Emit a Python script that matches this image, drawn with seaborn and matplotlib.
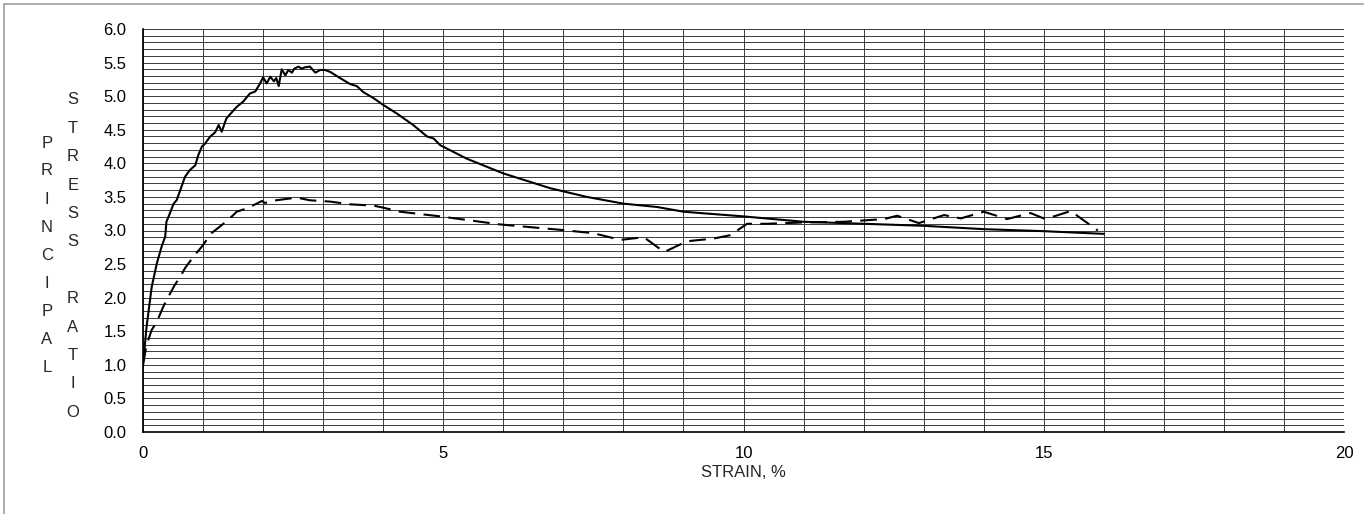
import matplotlib
matplotlib.use("Agg")
import matplotlib.pyplot as plt
import seaborn as sns
from matplotlib.ticker import MultipleLocator, FormatStrFormatter
from matplotlib.lines import Line2D

# --------------------
# Data
# --------------------
strain_solid = [0, 0.06, 0.145, 0.23, 0.31, 0.37, 0.39, 0.45, 0.51, 0.56, 0.62, 0.70,
                0.78, 0.87, 0.92, 0.98, 1.03, 1.12, 1.20, 1.26, 1.31, 1.39, 1.56, 1.67,
                1.78, 1.87, 1.95, 2.00, 2.06, 2.12, 2.18, 2.22, 2.26, 2.31, 2.37, 2.42,
                2.48, 2.52, 2.59, 2.64, 2.70, 2.78, 2.87, 2.95, 3.03, 3.12, 3.28, 3.45,
                3.56, 3.67, 3.84, 4.00, 4.23, 4.50, 4.73, 4.84, 4.95, 5.39, 6.0, 6.78,
                7.39, 8.0, 8.56, 9.0, 9.28, 10.0, 11.0, 12.0, 13.0, 14.0, 15.0, 16.0]
ratio_solid = [1.0, 1.57, 2.16, 2.51, 2.76, 2.91, 3.13, 3.26, 3.40, 3.45, 3.60, 3.80,
               3.90, 3.97, 4.12, 4.25, 4.29, 4.40, 4.46, 4.57, 4.47, 4.67, 4.84, 4.92,
               5.04, 5.07, 5.19, 5.28, 5.19, 5.29, 5.22, 5.27, 5.15, 5.40, 5.31, 5.39,
               5.35, 5.41, 5.44, 5.41, 5.43, 5.44, 5.35, 5.39, 5.39, 5.36, 5.27, 5.18,
               5.15, 5.06, 4.97, 4.87, 4.74, 4.57, 4.40, 4.37, 4.27, 4.07, 3.85, 3.63,
               3.50, 3.40, 3.35, 3.28, 3.26, 3.21, 3.13, 3.10, 3.07, 3.02, 2.99, 2.95]

strain_dash = [0, 0.06, 0.145, 0.23, 0.34, 0.45, 0.53, 0.62, 0.70, 0.84, 0.98, 1.14,
               1.31, 1.48, 1.56, 1.73, 1.87, 1.98, 2.03, 2.22, 2.56, 2.78, 3.12, 3.45,
               3.84, 4.0, 4.28, 4.95, 5.95, 6.95, 7.5, 7.95, 8.34, 8.68, 9.06, 9.5,
               9.78, 10.06, 10.39, 11.0, 11.67, 12.34, 12.56, 12.92, 13.34, 13.62, 14.0,
               14.39, 14.78, 15.0, 15.17, 15.45, 15.62, 15.9]
ratio_dash = [1.0, 1.30, 1.52, 1.64, 1.87, 2.06, 2.19, 2.31, 2.44, 2.61, 2.76, 2.96,
              3.08, 3.21, 3.28, 3.33, 3.39, 3.44, 3.41, 3.45, 3.49, 3.45, 3.43, 3.39,
              3.37, 3.34, 3.28, 3.21, 3.09, 3.01, 2.96, 2.86, 2.90, 2.68, 2.84, 2.88,
              2.93, 3.10, 3.10, 3.12, 3.13, 3.17, 3.22, 3.11, 3.23, 3.18, 3.28,
              3.17, 3.26, 3.18, 3.21, 3.29, 3.18, 3.0]

y_label_1 = "PRINCIPAL"
y_label_2 = "STRESS RATIO"
x_label = "STRAIN, %"

# --------------------
# Plot aesthetics
# --------------------
sns.set_style("white")
plt.rcParams["font.family"] = ["Liberation Sans", "DejaVu Sans"]
plt.rcParams["font.size"] = 12

W, H = 1364, 514
fig = plt.figure(figsize=(W / 100, H / 100), dpi=100)
ax = fig.add_axes([143 / W, 1 - 432 / H, (1344 - 143) / W, (432 - 29) / H])

sns.lineplot(x=strain_solid, y=ratio_solid, sort=False, estimator=None,
             color="black", linewidth=1.5, ax=ax, zorder=3)
sns.lineplot(x=strain_dash, y=ratio_dash, sort=False, estimator=None,
             color="black", linewidth=1.5, dashes=False, ax=ax, zorder=3)
ax.lines[-1].set_dashes((8, 4))

ax.set_xlim(0, 20)
ax.set_ylim(0, 6)
ax.xaxis.set_major_locator(MultipleLocator(5))
ax.xaxis.set_minor_locator(MultipleLocator(1))
ax.yaxis.set_major_locator(MultipleLocator(0.5))
ax.yaxis.set_minor_locator(MultipleLocator(0.1))
ax.yaxis.set_major_formatter(FormatStrFormatter("%.1f"))

ax.grid(True, which="both", color="#3a3a3a", linewidth=0.7)
ax.set_axisbelow(True)
ax.tick_params(which="major", direction="out", length=6, width=1,
               color="#999999", labelsize=12, labelcolor="black")
ax.tick_params(axis="y", which="major", pad=6)
ax.tick_params(axis="x", which="major", pad=4)
ax.tick_params(which="minor", length=0)

for side in ["top", "right"]:
    ax.spines[side].set_visible(False)
for side in ["left", "bottom"]:
    ax.spines[side].set_color("black")
    ax.spines[side].set_linewidth(1.2)

ax.set_xlabel(x_label, fontsize=12, labelpad=3)
ax.set_ylabel("")

# stacked vertical y-axis titles
for i, ch in enumerate(y_label_1):
    fig.text(47 / W, 1 - (143 + 28 * i) / H, ch, ha="center", va="center", fontsize=12)
for i, ch in enumerate(y_label_2):
    fig.text(73 / W, 1 - (100 + 28.4 * i) / H, ch, ha="center", va="center", fontsize=12)

# outer frame (top and left only visible)
fig.add_artist(Line2D([4 / W, 4 / W], [0, 1 - 4 / H], color="#a0a0a0", linewidth=1.2))
fig.add_artist(Line2D([4 / W, 1], [1 - 4 / H, 1 - 4 / H], color="#a0a0a0", linewidth=1.2))

fig.savefig("out.png", dpi=100)
